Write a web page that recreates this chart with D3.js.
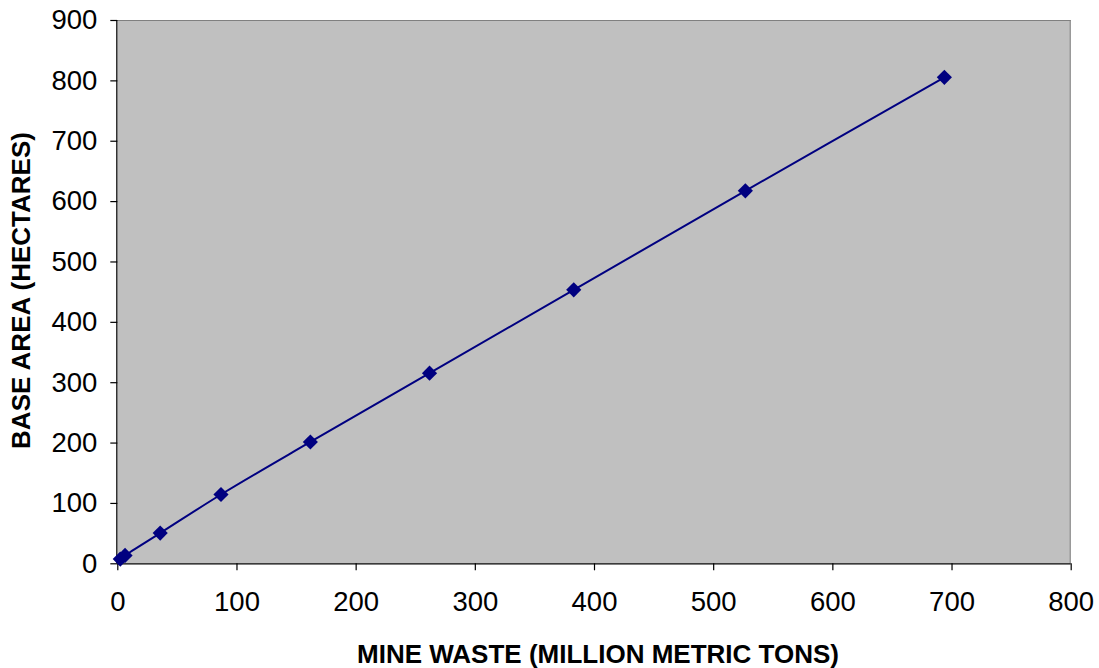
<!DOCTYPE html>
<html><head><meta charset="utf-8">
<script src="https://cdn.jsdelivr.net/npm/d3@7"></script>
<style>body{margin:0;background:#fff;}svg{display:block;}</style>
</head><body>
<svg id="c" width="1099" height="668"></svg>
<script>
const mineWaste = [2.5, 6.5, 36, 87, 162, 262, 383, 527, 694];
const baseArea  = [7, 13, 50, 114, 201, 315, 453, 617, 805];
const xTicks = [0,100,200,300,400,500,600,700,800];
const yTicks = [0,100,200,300,400,500,600,700,800,900];
const xTitle = "MINE WASTE (MILLION METRIC TONS)";
const yTitle = "BASE AREA (HECTARES)";

const svg = d3.select("#c");
const L=117.3, R=1070.7, T=20, B=563.3;
const x = d3.scaleLinear().domain([0,800]).range([L,R]);
const y = d3.scaleLinear().domain([0,900]).range([B,T]);

svg.append("rect").attr("x",L).attr("y",T).attr("width",R-L).attr("height",B-T).attr("fill","#C0C0C0");
svg.append("line").attr("x1",L).attr("x2",R).attr("y1",T+0.5).attr("y2",T+0.5).attr("stroke","#808080");
svg.append("line").attr("x1",R-0.5).attr("x2",R-0.5).attr("y1",T).attr("y2",B).attr("stroke","#808080");

const font = "'Liberation Sans', Arial, sans-serif";
const xAxis = svg.append("g").attr("transform",`translate(0,${B})`)
  .call(d3.axisBottom(x).tickValues(xTicks).tickSize(7).tickPadding(21).tickFormat(d3.format("d")));
const yAxis = svg.append("g").attr("transform",`translate(${L},0)`)
  .call(d3.axisLeft(y).tickValues(yTicks).tickSize(7).tickPadding(13).tickFormat(d3.format("d")));
[xAxis,yAxis].forEach(g=>{
  g.selectAll("path,line").attr("stroke","#000").attr("stroke-width",1.2);
  g.selectAll("text").attr("font-family",font).attr("font-size",27.5).attr("fill","#000");
});
xAxis.select(".domain").attr("d",`M${L},0.5H${R}`);
yAxis.select(".domain").attr("d",`M-0.5,${T}V${B}`);

const pts = mineWaste.map((v,i)=>[v, baseArea[i]]);
const line = d3.line().x(d=>x(d[0])).y(d=>y(d[1])).curve(d3.curveCatmullRom.alpha(0.5));
svg.append("path").attr("d",line(pts)).attr("fill","none").attr("stroke","#000080").attr("stroke-width",2);

const sym = d3.symbol().type(d3.symbolSquare).size(115);
svg.selectAll(".m").data(pts).enter().append("path")
  .attr("d",sym).attr("fill","#000080")
  .attr("transform",d=>`translate(${x(d[0])},${y(d[1])}) rotate(45)`);

svg.append("text").attr("x",598).attr("y",663).attr("text-anchor","middle")
  .attr("font-family",font).attr("font-weight","bold").attr("font-size",26).text(xTitle);
svg.append("text").attr("transform",`translate(30,${290.5}) rotate(-90)`).attr("text-anchor","middle")
  .attr("font-family",font).attr("font-weight","bold").attr("font-size",26).text(yTitle);
</script>
</body></html>
